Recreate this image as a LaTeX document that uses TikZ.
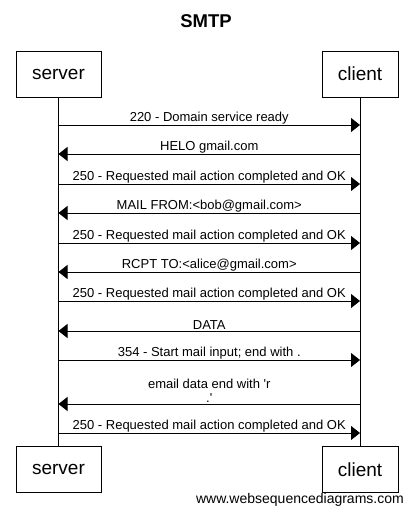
\documentclass[tikz,border=0pt]{standalone}
\usepackage{fontspec}
\setmainfont{Liberation Sans}[Ligatures=TeXOff]
\usetikzlibrary{arrows.meta}
\tikzset{
  actor/.style={draw, line width=0.9pt, minimum height=46pt, inner sep=0pt, font=\fontsize{19}{22}\selectfont},
  life/.style={line width=0.9pt},
  msg/.style={line width=0.9pt, -{Triangle[length=9pt,width=14pt]}},
  lbl/.style={above, inner sep=0.8pt, font=\fontsize{13}{14.5}\selectfont, align=center}
}
\begin{document}
\begin{tikzpicture}[x=1pt,y=-1pt]
\useasboundingbox (0,0) rectangle (412,517);
\node[font=\bfseries\fontsize{18.5}{21}\selectfont] (title) at (206,21) {SMTP};
\node[actor, minimum width=85pt] (st) at (58.5,74) {server};
\node[actor, minimum width=76pt] (ct) at (360,74) {client};
\node[actor, minimum width=85pt] (sb) at (58.5,469.5) {server};
\node[actor, minimum width=76pt] (cb) at (360,469.5) {client};
\draw[life] (st.south) -- (sb.north);
\draw[life] (ct.south) -- (cb.north);
\foreach \n/\y in {1/125,2/154,3/184,4/213,5/243,6/272,7/301,8/331,9/360,10/404,11/433}{
  \coordinate (s\n) at (58.5,\y);
  \coordinate (c\n) at (360,\y);
}
\draw[msg] (s1) -- node[lbl] {220 - Domain service ready} (c1);
\draw[msg] (c2) -- node[lbl] {HELO gmail.com} (s2);
\draw[msg] (s3) -- node[lbl] {250 - Requested mail action completed and OK} (c3);
\draw[msg] (c4) -- node[lbl] {MAIL FROM:<bob@gmail.com>} (s4);
\draw[msg] (s5) -- node[lbl] {250 - Requested mail action completed and OK} (c5);
\draw[msg] (c6) -- node[lbl] {RCPT TO:<alice@gmail.com>} (s6);
\draw[msg] (s7) -- node[lbl] {250 - Requested mail action completed and OK} (c7);
\draw[msg] (c8) -- node[lbl] {DATA} (s8);
\draw[msg] (s9) -- node[lbl] {354 - Start mail input; end with .} (c9);
\draw[msg] (c10) -- node[lbl] {email data end with 'r\\.'} (s10);
\draw[msg] (s11) -- node[lbl] {250 - Requested mail action completed and OK} (c11);
\node[anchor=east, font=\fontsize{14}{16}\selectfont, inner sep=0pt] (wsd) at (404,500) {www.websequencediagrams.com};
\end{tikzpicture}
\end{document}
